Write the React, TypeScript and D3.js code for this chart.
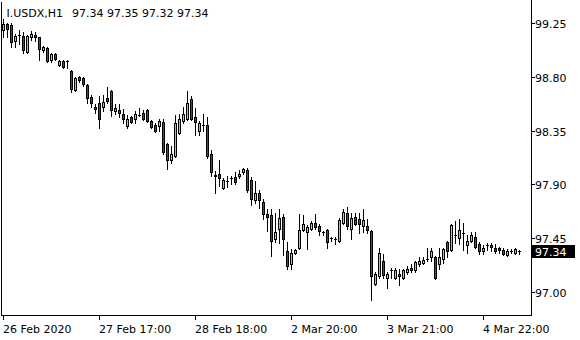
import React from 'react';
import * as d3 from 'd3';

const symbolTitle = 'I.USDX,H1';
const lastOHLC = '97.34 97.35 97.32 97.34';
const lastPrice = 97.34;

const openP = [
  99.19, 99.24, 99.23, 99.10, 99.15, 99.14, 99.01, 99.13, 99.15, 99.13,
  99.02, 99.04, 98.94, 98.99, 98.90, 98.93, 98.93, 98.85, 98.69, 98.80,
  98.79, 98.73, 98.63, 98.55, 98.58, 98.55, 98.62, 98.68, 98.51, 98.52,
  98.49, 98.39, 98.46, 98.45, 98.48, 98.50, 98.52, 98.43, 98.40, 98.39,
  98.42, 98.24, 98.10, 98.14, 98.33, 98.43, 98.45, 98.61, 98.46, 98.35,
  98.40, 98.40, 98.15, 97.98, 97.99, 97.87, 97.93, 97.95, 97.96, 97.97,
  98.00, 98.02, 97.94, 97.77, 97.83, 97.75, 97.65, 97.64, 97.44, 97.53,
  97.63, 97.34, 97.23, 97.33, 97.37, 97.52, 97.50, 97.53, 97.58, 97.55,
  97.50, 97.52, 97.45, 97.44, 97.43, 97.58, 97.66, 97.53, 97.63, 97.61,
  97.55, 97.55, 97.51, 97.07, 97.13, 97.26, 97.12, 97.18, 97.12, 97.15,
  97.12, 97.17, 97.20, 97.18, 97.23, 97.24, 97.28, 97.29, 97.29, 97.23,
  97.28, 97.42, 97.35, 97.48, 97.45, 97.49, 97.39, 97.43, 97.46, 97.40,
  97.34, 97.39, 97.39, 97.37, 97.37, 97.35, 97.31, 97.34, 97.33, 97.34,
];
const highP = [
  99.28, 99.25, 99.25, 99.16, 99.19, 99.17, 99.15, 99.18, 99.17, 99.13,
  99.06, 99.05, 99.00, 99.00, 98.94, 98.94, 98.94, 98.86, 98.80, 98.81,
  98.80, 98.74, 98.65, 98.57, 98.64, 98.65, 98.71, 98.69, 98.57, 98.57,
  98.53, 98.48, 98.47, 98.51, 98.54, 98.52, 98.53, 98.44, 98.41, 98.45,
  98.45, 98.25, 98.22, 98.48, 98.49, 98.55, 98.68, 98.64, 98.54, 98.43,
  98.49, 98.46, 98.19, 98.01, 98.10, 97.95, 97.97, 97.97, 98.00, 98.02,
  98.04, 98.04, 97.96, 97.93, 97.85, 97.78, 97.69, 97.69, 97.66, 97.69,
  97.65, 97.42, 97.36, 97.36, 97.65, 97.64, 97.56, 97.59, 97.65, 97.57,
  97.51, 97.53, 97.46, 97.46, 97.62, 97.69, 97.71, 97.66, 97.66, 97.66,
  97.69, 97.61, 97.52, 97.17, 97.37, 97.32, 97.17, 97.20, 97.20, 97.19,
  97.19, 97.22, 97.23, 97.26, 97.29, 97.29, 97.37, 97.37, 97.30, 97.37,
  97.37, 97.43, 97.57, 97.59, 97.61, 97.58, 97.48, 97.50, 97.50, 97.42,
  97.39, 97.41, 97.41, 97.40, 97.38, 97.37, 97.36, 97.36, 97.37, 97.35,
];
const lowP = [
  99.13, 99.13, 99.05, 99.05, 99.07, 99.00, 99.00, 99.11, 99.10, 98.94,
  99.01, 98.92, 98.92, 98.94, 98.89, 98.87, 98.87, 98.67, 98.68, 98.76,
  98.72, 98.58, 98.55, 98.50, 98.37, 98.51, 98.58, 98.47, 98.49, 98.46,
  98.41, 98.37, 98.41, 98.41, 98.47, 98.44, 98.42, 98.37, 98.34, 98.35,
  98.15, 98.03, 98.08, 98.13, 98.32, 98.41, 98.44, 98.44, 98.31, 98.31,
  98.35, 98.12, 97.97, 97.83, 97.89, 97.86, 97.88, 97.90, 97.90, 97.95,
  97.99, 97.84, 97.73, 97.74, 97.70, 97.61, 97.51, 97.30, 97.42, 97.41,
  97.31, 97.19, 97.19, 97.32, 97.36, 97.51, 97.36, 97.52, 97.53, 97.48,
  97.48, 97.37, 97.43, 97.40, 97.42, 97.57, 97.53, 97.44, 97.56, 97.49,
  97.50, 97.49, 96.93, 97.06, 97.12, 97.12, 97.03, 97.12, 97.11, 97.06,
  97.11, 97.15, 97.17, 97.17, 97.22, 97.23, 97.26, 97.26, 97.11, 97.19,
  97.24, 97.29, 97.34, 97.41, 97.40, 97.35, 97.33, 97.42, 97.37, 97.32,
  97.32, 97.35, 97.34, 97.33, 97.33, 97.31, 97.30, 97.33, 97.32, 97.32,
];
const closeP = [
  99.24, 99.20, 99.09, 99.14, 99.15, 99.02, 99.14, 99.16, 99.13, 99.03,
  99.05, 98.93, 98.99, 98.95, 98.93, 98.88, 98.93, 98.70, 98.79, 98.77,
  98.74, 98.62, 98.58, 98.53, 98.45, 98.59, 98.60, 98.52, 98.54, 98.50,
  98.45, 98.45, 98.42, 98.49, 98.48, 98.45, 98.43, 98.38, 98.35, 98.43,
  98.17, 98.10, 98.15, 98.41, 98.45, 98.49, 98.58, 98.45, 98.42, 98.41,
  98.40, 98.14, 98.00, 97.97, 97.95, 97.94, 97.93, 97.95, 97.92, 97.99,
  98.03, 97.85, 97.78, 97.83, 97.77, 97.65, 97.63, 97.43, 97.50, 97.62,
  97.44, 97.22, 97.33, 97.35, 97.52, 97.57, 97.54, 97.58, 97.54, 97.51,
  97.50, 97.42, 97.45, 97.44, 97.60, 97.67, 97.55, 97.62, 97.57, 97.57,
  97.60, 97.52, 97.13, 97.15, 97.33, 97.14, 97.15, 97.18, 97.18, 97.13,
  97.18, 97.19, 97.18, 97.25, 97.26, 97.27, 97.28, 97.34, 97.12, 97.29,
  97.36, 97.34, 97.56, 97.48, 97.52, 97.49, 97.43, 97.48, 97.38, 97.34,
  97.37, 97.39, 97.38, 97.34, 97.35, 97.32, 97.34, 97.34, 97.36, 97.34,
];

const priceTicks = [99.25, 98.8, 98.35, 97.9, 97.45, 97.0];
const timeLabels = ['26 Feb 2020', '27 Feb 17:00', '28 Feb 18:00', '2 Mar 20:00', '3 Mar 21:00', '4 Mar 22:00'];
const timeLabelBars = [0, 24, 48, 72, 96, 120];

const BULL = '#9ee03c';
const BEAR = '#d01414';
const FONT = '"DejaVu Sans", Verdana, sans-serif';

export default function App() {
  const n = openP.length;
  const x = d3.scaleLinear().domain([0, n - 1]).range([3, 3 + 4 * (n - 1)]);
  const y = d3.scaleLinear().domain([97, 99.25]).range([292.5, 23.4]);
  const row = (v: number) => Math.floor(y(v));

  const plotRight = 531;
  const plotBottom = 315;

  const candles = d3.range(n).map((i) => {
    const cx = Math.round(x(i));
    const o = openP[i], c = closeP[i], h = highP[i], l = lowP[i];
    const rh = row(h), rl = row(l);
    const top = row(Math.max(o, c));
    const bot = row(Math.min(o, c));
    const els: any[] = [];
    els.push(<rect key="w" x={cx} y={rh} width={1} height={rl - rh + 1} fill="#000" />);
    if (o === c || bot - top < 1) {
      els.push(<rect key="d" x={cx - 1} y={top} width={3} height={1} fill="#000" />);
    } else {
      els.push(<rect key="b" x={cx - 1} y={top} width={3} height={bot - top + 1} fill="#000" />);
      if (bot - top + 1 >= 3) {
        els.push(
          <rect key="f" x={cx} y={top + 1} width={1} height={bot - top - 1} fill={c > o ? BULL : BEAR} />
        );
      }
    }
    return <g key={i}>{els}</g>;
  });

  const lastRow = row(lastPrice);

  return (
    <svg
      width={580}
      height={340}
      style={{ position: 'absolute', left: 0, top: 0, background: '#fff' }}
      shapeRendering="crispEdges"
    >
      <rect x={0} y={0} width={580} height={340} fill="#fff" />
      {/* frame */}
      <rect x={1} y={2} width={1} height={plotBottom - 2 + 1} fill="#000" />
      <rect x={plotRight} y={0} width={1} height={plotBottom + 1} fill="#000" />
      <rect x={1} y={plotBottom} width={plotRight - 1 + 1} height={1} fill="#000" />

      {candles}

      {/* price axis */}
      {priceTicks.map((v) => (
        <g key={v}>
          <rect x={plotRight + 1} y={row(v)} width={3} height={1} fill="#000" />
          <text
            x={535}
            y={row(v) + 4.5}
            fontFamily={FONT}
            fontSize={11}
            fill="#000"
            shapeRendering="auto"
          >
            {v.toFixed(2)}
          </text>
        </g>
      ))}
      <rect x={plotRight + 1} y={lastRow - 6} width={43} height={13} fill="#000" />
      <text x={535} y={lastRow + 4.5} fontFamily={FONT} fontSize={11} fill="#fff">
        {lastPrice.toFixed(2)}
      </text>

      {/* time axis */}
      {timeLabelBars.map((b, k) => {
        const tx = Math.round(x(b));
        return (
          <g key={b}>
            <rect x={tx} y={plotBottom + 1} width={1} height={4} fill="#000" />
            <text x={tx} y={333} fontFamily={FONT} fontSize={11} fill="#000">
              {timeLabels[k]}
            </text>
          </g>
        );
      })}

      {/* title */}
      <text x={6.5} y={17} fontFamily={FONT} fontSize={11} fill="#000">
        {symbolTitle}
      </text>
      <text x={72} y={17} fontFamily={FONT} fontSize={11} fill="#000">
        {lastOHLC}
      </text>
    </svg>
  );
}
